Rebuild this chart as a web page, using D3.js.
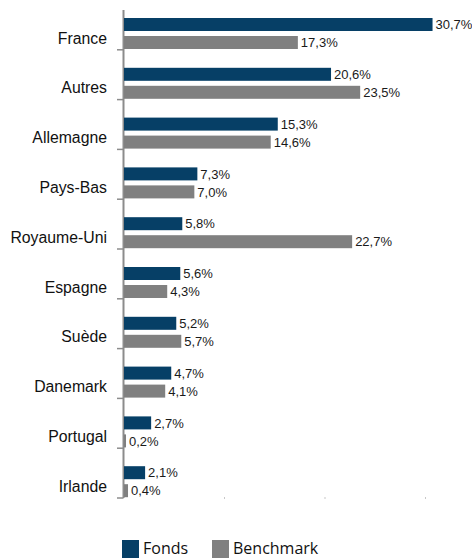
<!DOCTYPE html>
<html>
<head>
<meta charset="utf-8">
<script src="https://cdn.jsdelivr.net/npm/d3@7"></script>
<style>
  body { margin: 0; background: #fff; }
  svg { display: block; }
</style>
</head>
<body>
<div id="chart"></div>
<script>
// Répartition par pays : Fonds vs Benchmark
const categories = ['France', 'Autres', 'Allemagne', 'Pays-Bas', 'Royaume-Uni', 'Espagne', 'Suède', 'Danemark', 'Portugal', 'Irlande'];
const series = ['Fonds', 'Benchmark'];
const fondsValues = [30.7, 20.6, 15.3, 7.3, 5.8, 5.6, 5.2, 4.7, 2.7, 2.1];
const benchmarkValues = [17.3, 23.5, 14.6, 7.0, 22.7, 4.3, 5.7, 4.1, 0.2, 0.4];
const xTicks = [10, 20, 30];

const colors = { Fonds: '#063f66', Benchmark: '#808080' };
const arial = "'Liberation Sans', Arial, sans-serif";

const width = 472, height = 558;
const svg = d3.select('#chart').append('svg')
    .attr('width', width)
    .attr('height', height);

const x = d3.scaleLinear().domain([0, 35]).range([124, 475.75]);
const y = d3.scaleBand().domain(categories).range([0, 498]);
const ySub = d3.scaleBand().domain(series).range([18, 49]).paddingInner(5 / 18);

const rows = categories.map((c, i) => ({ cat: c, Fonds: fondsValues[i], Benchmark: benchmarkValues[i] }));

// Axe vertical
svg.append('line')
    .attr('x1', 123.5).attr('x2', 123.5)
    .attr('y1', 10).attr('y2', 498)
    .attr('stroke', '#8c8c8c').attr('stroke-width', 2);

// Graduations entre catégories
const boundaries = categories.map(c => y(c) + y.bandwidth());
svg.selectAll('line.cat-tick')
    .data(boundaries)
    .enter().append('line')
    .attr('class', 'cat-tick')
    .attr('x1', 117).attr('x2', 123.5)
    .attr('y1', d => d).attr('y2', d => d)
    .attr('stroke', '#8c8c8c').attr('stroke-width', 1.5);

// Petites marques de l'axe horizontal
svg.selectAll('rect.x-tick')
    .data(xTicks)
    .enter().append('rect')
    .attr('class', 'x-tick')
    .attr('x', d => x(d) - 0.5)
    .attr('y', 497)
    .attr('width', 1).attr('height', 2)
    .attr('fill', '#c8c8c8');

// Libellés des catégories
svg.selectAll('text.cat-label')
    .data(categories)
    .enter().append('text')
    .attr('class', 'cat-label')
    .attr('x', 107)
    .attr('y', d => y(d) + 43.5)
    .attr('text-anchor', 'end')
    .attr('font-family', arial)
    .attr('font-size', 15.8)
    .attr('fill', '#111')
    .text(d => d);

// Barres
const groups = svg.selectAll('g.row')
    .data(rows)
    .enter().append('g')
    .attr('class', 'row')
    .attr('transform', d => `translate(0, ${y(d.cat)})`);

series.forEach(s => {
    groups.append('rect')
        .attr('x', x(0))
        .attr('y', ySub(s))
        .attr('width', d => x(d[s]) - x(0))
        .attr('height', ySub.bandwidth())
        .attr('fill', colors[s]);

    groups.append('text')
        .attr('x', d => x(d[s]) + 3)
        .attr('y', ySub(s) + ySub.bandwidth() / 2)
        .attr('dy', '0.36em')
        .attr('font-family', arial)
        .attr('font-size', 13)
        .attr('fill', '#1a1a1a')
        .text(d => d3.format('.1f')(d[s]).replace('.', ',') + '%');
});

// Légende
const legendX = [122, 212];
const legend = svg.selectAll('g.legend')
    .data(series)
    .enter().append('g')
    .attr('class', 'legend')
    .attr('transform', (d, i) => `translate(${legendX[i]}, 540)`);

legend.append('rect')
    .attr('width', 17).attr('height', 18)
    .attr('fill', d => colors[d]);

legend.append('text')
    .attr('x', 21)
    .attr('y', 14)
    .attr('font-family', "'Open Sans', sans-serif")
    .attr('font-size', 16)
    .attr('fill', '#111')
    .text(d => d);
</script>
</body>
</html>
